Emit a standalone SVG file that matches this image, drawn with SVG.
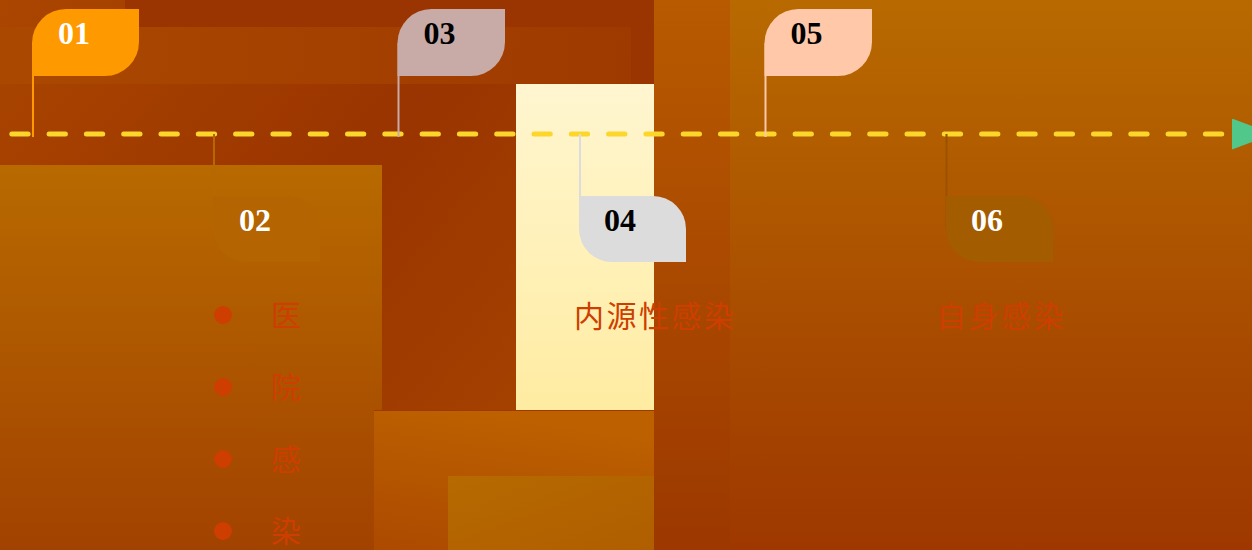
<svg xmlns="http://www.w3.org/2000/svg" width="1252" height="550" viewBox="0 0 1252 550">
  <style>
    .num { font-family: "Liberation Serif", "Times New Roman", serif; font-weight: bold; font-size: 32px; }
    .cjk { font-family: "Noto Sans CJK SC", "Noto Sans", sans-serif; font-size: 30px; fill: #cd3e00; }
    .pole { stroke-width: 2; fill: none; }
  </style>
  <defs>
    <linearGradient id="gR1" gradientUnits="userSpaceOnUse" x1="0" y1="0" x2="654" y2="550">
      <stop offset="0" stop-color="#aa4600"/>
      <stop offset="0.45" stop-color="#9a3400"/>
      <stop offset="1" stop-color="#ac4a00"/>
    </linearGradient>
    <linearGradient id="gBand" gradientUnits="userSpaceOnUse" x1="0" y1="27" x2="631" y2="84">
      <stop offset="0" stop-color="#ab4800"/>
      <stop offset="1" stop-color="#9e3a00"/>
    </linearGradient>
    <linearGradient id="gLeft" x1="0" y1="0" x2="0" y2="1">
      <stop offset="0" stop-color="#b86a00"/>
      <stop offset="1" stop-color="#a24200"/>
    </linearGradient>
    <linearGradient id="gYellow" x1="0" y1="0" x2="0" y2="1">
      <stop offset="0" stop-color="#fff6d0"/>
      <stop offset="1" stop-color="#ffeca2"/>
    </linearGradient>
    <linearGradient id="gMid" x1="0.3" y1="0" x2="0" y2="1">
      <stop offset="0" stop-color="#bc6000"/>
      <stop offset="1" stop-color="#ac4a00"/>
    </linearGradient>
    <linearGradient id="gMid2" x1="0" y1="0" x2="1" y2="1">
      <stop offset="0" stop-color="#b66a00"/>
      <stop offset="1" stop-color="#b05e00"/>
    </linearGradient>
    <linearGradient id="gCol" x1="0" y1="0" x2="0" y2="1">
      <stop offset="0" stop-color="#b85a00"/>
      <stop offset="1" stop-color="#9c3800"/>
    </linearGradient>
    <linearGradient id="gRight" x1="0" y1="0" x2="0" y2="1">
      <stop offset="0" stop-color="#b86a00"/>
      <stop offset="1" stop-color="#9e3800"/>
    </linearGradient>
    <marker id="arrow" markerUnits="userSpaceOnUse" markerWidth="42" markerHeight="32" refX="0" refY="15.5" orient="auto">
      <path d="M0,0 L41,15.5 L0,31 Z" fill="#52c78a"/>
    </marker>
  </defs>

  <g id="background">
    <rect x="0" y="0" width="654" height="550" fill="url(#gR1)"/>
    <rect x="125" y="0" width="529" height="84" fill="#9a3400"/>
    <rect x="0" y="27" width="631" height="57" fill="url(#gBand)"/>
    <rect x="0" y="165" width="382" height="385" fill="url(#gLeft)"/>
    <rect x="516" y="84" width="138" height="326" fill="url(#gYellow)"/>
    <rect x="374" y="410" width="280" height="140" fill="url(#gMid)"/>
    <line x1="374" y1="410.5" x2="654" y2="410.5" stroke="#a03800" stroke-width="1"/>
    <rect x="448" y="476" width="206" height="74" fill="url(#gMid2)"/>
    <rect x="654" y="0" width="76" height="550" fill="url(#gCol)"/>
    <rect x="730" y="0" width="522" height="550" fill="url(#gRight)"/>
  </g>

  <g id="connectors">
    <line x1="11.8" y1="134" x2="1232" y2="134" stroke="#fcd62a" stroke-width="5" stroke-linecap="round" stroke-dasharray="16.3 21" marker-end="url(#arrow)"/>
  </g>

  <g id="flag-01">
    <line class="pole" x1="33" y1="43" x2="33" y2="137" stroke="#ff9900"/>
    <path d="M32,76 V43 A34,34 0 0 1 66,9 H139 V42 A34,34 0 0 1 105,76 Z" fill="#ff9900"/>
    <text class="num" x="58" y="44" fill="#ffffff">01</text>
  </g>

  <g id="flag-02">
    <line class="pole" x1="214" y1="134" x2="214" y2="229" stroke="#b86800"/>
    <path d="M213,196 H287 A33,33 0 0 1 320,229 V262 H246 A33,33 0 0 1 213,229 Z" fill="#b46400"/>
    <text class="num" x="239" y="231" fill="#ffffff">02</text>
  </g>

  <g id="flag-03">
    <line class="pole" x1="398.5" y1="43" x2="398.5" y2="137" stroke="#c8aaa6"/>
    <path d="M397.5,76 V43 A34,34 0 0 1 431.5,9 H505 V42 A34,34 0 0 1 471,76 Z" fill="#c8aaa6"/>
    <text class="num" x="423.5" y="44" fill="#000000">03</text>
  </g>

  <g id="flag-04">
    <line class="pole" x1="580" y1="134" x2="580" y2="229" stroke="#dcdcdc"/>
    <path d="M579,196 H653 A33,33 0 0 1 686,229 V262 H612 A33,33 0 0 1 579,229 Z" fill="#dcdcdc"/>
    <text class="num" x="604" y="231" fill="#000000">04</text>
  </g>

  <g id="flag-05">
    <line class="pole" x1="765.5" y1="43" x2="765.5" y2="137" stroke="#ffc8a8"/>
    <path d="M764.5,76 V43 A34,34 0 0 1 798.5,9 H872 V42 A34,34 0 0 1 838,76 Z" fill="#ffc8a8"/>
    <text class="num" x="790.5" y="44" fill="#000000">05</text>
  </g>

  <g id="flag-06">
    <line class="pole" x1="946.5" y1="134" x2="946.5" y2="229" stroke="#9a5200"/>
    <path d="M946,196 H1020 A33,33 0 0 1 1053,229 V262 H979 A33,33 0 0 1 946,229 Z" fill="#a45c00"/>
    <text class="num" x="971" y="231" fill="#ffffff">06</text>
  </g>

  <g id="list-hospital">
    <circle cx="223" cy="315" r="9" fill="#cd3e00"/>
    <circle cx="223" cy="387" r="9" fill="#cd3e00"/>
    <circle cx="223" cy="459" r="9" fill="#cd3e00"/>
    <circle cx="223" cy="531" r="9" fill="#cd3e00"/>
    <text class="cjk" x="271" y="326">医</text>
    <text class="cjk" x="271" y="398">院</text>
    <text class="cjk" x="271" y="470">感</text>
    <text class="cjk" x="271" y="542">染</text>
  </g>

  <g id="label-endogenous">
    <text class="cjk" x="574" y="327" letter-spacing="2.5">内源性感染</text>
  </g>

  <g id="label-self">
    <text class="cjk" x="936" y="327" letter-spacing="2.5">自身感染</text>
  </g>
</svg>
